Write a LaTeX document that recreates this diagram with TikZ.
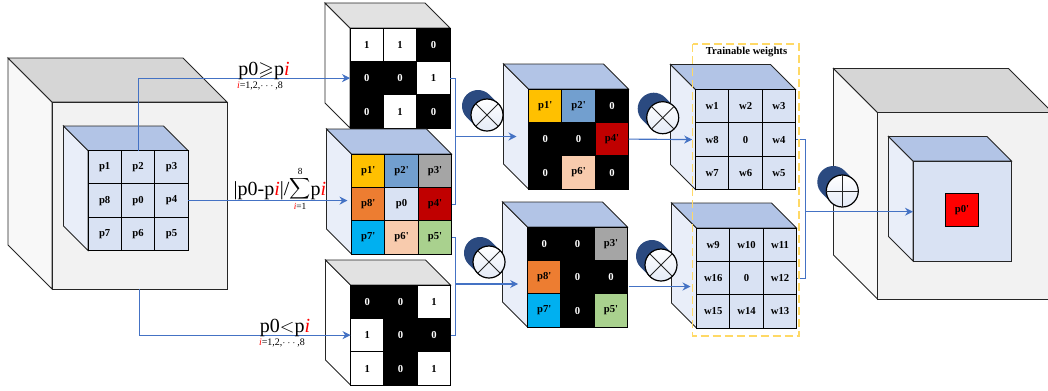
\documentclass[tikz,border=0pt]{standalone}
\usepackage{amsmath,amssymb}
\usepackage{fontspec}
\setmainfont[Ligatures=TeXOff]{Liberation Serif}
\usepackage{xcolor}
\usetikzlibrary{arrows.meta}
\definecolor{greyS}{HTML}{F8F8F8}
\definecolor{greyT}{HTML}{D6D6D6}
\definecolor{greyF}{HTML}{F2F2F2}
\definecolor{blueS}{HTML}{E9EEF9}
\definecolor{blueT}{HTML}{B2C4E6}
\definecolor{blueF}{HTML}{D9E2F3}
\definecolor{wipeS}{HTML}{FFFFFF}
\definecolor{wipeT}{HTML}{E2E2E2}
\definecolor{wipeF}{HTML}{FFFFFF}
\definecolor{wirec}{HTML}{4472C4}
\definecolor{blobc}{HTML}{2B4A80}
\definecolor{dashc}{HTML}{FFD966}
\definecolor{cA}{HTML}{FFC000}
\definecolor{cB}{HTML}{729FCF}
\definecolor{cC}{HTML}{A5A5A5}
\definecolor{cD}{HTML}{ED7D31}
\definecolor{cE}{HTML}{C00000}
\definecolor{cF}{HTML}{00B0F0}
\definecolor{cG}{HTML}{F8CBAD}
\definecolor{cH}{HTML}{A9D18E}
\tikzset{
  edge/.style={draw=black!85,line width=0.65pt,line join=miter},
  cell/.style={draw=black,line width=0.7pt,minimum size=25pt,inner sep=0pt,outer sep=0pt,font=\fontsize{8}{9}\selectfont\bfseries},
  wire/.style={draw=wirec,line width=0.85pt},
  arr/.style={wire,-{Stealth[length=6pt,width=6pt]}},
  blob/.style={draw=blobc,line width=24pt,line cap=round},
  opdisc/.style={circle,draw=black,line width=0.9pt,minimum size=24pt,inner sep=0pt,outer sep=0pt,top color=white,bottom color=blueF!70},
  opline/.style={draw=black!85,line width=0.7pt},
  biglab/.style={font=\fontsize{15}{15}\selectfont,anchor=base,inner sep=0pt},
  sublab/.style={font=\fontsize{7.5}{9}\selectfont,inner sep=0pt}
}
\newcommand{\redi}{\textcolor{red}{\textit{i}}}
\newcommand{\cubeat}[7]{
\draw[edge,fill=#7S] ({#2-#6},{#3-#6}) -- (#2,#3) -- (#2,{#3+#5}) -- ({#2-#6},{#3+#5-#6}) -- cycle;
\draw[edge,fill=#7T] ({#2-#6},{#3-#6}) -- ({#2+#4-#6},{#3-#6}) -- ({#2+#4},#3) -- (#2,#3) -- cycle;
\node[edge,fill=#7F,anchor=north west,inner sep=0pt,outer sep=0pt,minimum width=#4*0.75pt,minimum height=#5*0.75pt] (#1) at (#2,#3) {};
}
\newcommand{\cellgrid}[4]{
\foreach \lab/\col/\txt [count=\k from 0] in {#4} {
  \pgfmathtruncatemacro{\rw}{div(\k,3)}
  \pgfmathtruncatemacro{\cl}{mod(\k,3)}
  \node[cell,fill=\col,text=\txt] (#1-\k) at ({#2+(\cl+0.5)*33.4},{#3+(\rw+0.5)*33.4}) {\lab};
}
}
\newcommand{\opsym}[4]{
\draw[blob] ({#2-9},{#3-9}) -- (#2,#3);
\node[opdisc] (#1) at (#2,#3) {};
\foreach \a in {0,90,180,270} \draw[opline] (#1.center) -- ++(#4+\a:16);
}

\begin{document}
\begin{tikzpicture}[x=0.75pt,y=-0.75pt]
\useasboundingbox (0,0) rectangle (1048,390);
\clip (0,0) rectangle (1048,390);
\cubeat{bigin}{52}{102}{175}{187}{44}{grey}
\cubeat{small}{88}{150.5}{100}{100}{24.5}{blue}
\cellgrid{small}{88}{150.5}{p1/blueF/black,p2/blueF/black,p3/blueF/black,p8/blueF/black,p0/blueF/black,p4/blueF/black,p7/blueF/black,p6/blueF/black,p5/blueF/black}

\cubeat{bina}{350}{28}{100}{100}{25}{wipe}
\cellgrid{bina}{350}{28}{1/white/black,1/white/black,0/black/white,0/black/white,0/black/white,1/white/black,0/black/white,1/white/black,0/black/white}
\cubeat{norm}{351.5}{154}{100}{100}{25}{blue}
\cellgrid{norm}{351.5}{154}{p1'/cA/black,p2'/cB/black,p3'/cC/black,p8'/cD/black,p0/blueF/black,p4'/cE/black,p7'/cF/black,p6'/cG/black,p5'/cH/black}
\cubeat{binb}{350.5}{285}{100}{100}{25}{wipe}
\cellgrid{binb}{350.5}{285}{0/black/white,0/black/white,1/white/black,1/white/black,0/black/white,0/black/white,1/white/black,0/black/white,1/white/black}

\cubeat{mida}{528.5}{89}{100}{100}{25}{blue}
\cellgrid{mida}{528.5}{89}{p1'/cA/black,p2'/cB/black,0/black/white,0/black/white,0/black/white,p4'/cE/black,0/black/white,p6'/cG/black,0/black/white}
\cubeat{midb}{527.5}{227}{100}{100}{25}{blue}
\cellgrid{midb}{527.5}{227}{0/black/white,0/black/white,p3'/cC/black,p8'/cD/black,0/black/white,0/black/white,p7'/cF/black,0/black/white,p5'/cH/black}

\cubeat{wta}{695.5}{89.5}{100}{100}{25}{blue}
\cellgrid{wta}{695.5}{89.5}{w1/blueF/black,w2/blueF/black,w3/blueF/black,w8/blueF/black,0/blueF/black,w4/blueF/black,w7/blueF/black,w6/blueF/black,w5/blueF/black}
\cubeat{wtb}{696.5}{228}{100}{100}{25}{blue}
\cellgrid{wtb}{696.5}{228}{w9/blueF/black,w10/blueF/black,w11/blueF/black,w16/blueF/black,0/blueF/black,w12/blueF/black,w15/blueF/black,w14/blueF/black,w13/blueF/black}

\cubeat{bigout}{877.5}{112.5}{175}{186.5}{44}{grey}
\cubeat{inner}{913}{161}{98.5}{100}{24.5}{blue}
\node[cell,fill=red] (res) at (962,210) {p0'};

\opsym{opa}{487}{115}{45}
\opsym{opb}{662.7}{117.7}{45}
\opsym{opc}{489}{262}{45}
\opsym{opd}{661}{265}{45}
\opsym{ope}{842.3}{191}{0}

\coordinate (busA) at (455.5,136.5);
\coordinate (busB) at (455.5,284);
\coordinate (busC) at (805.5,211.7);
\coordinate (tapB) at (628.5,286.5);
\draw[arr] (small-1.north) |- (bina-3.west);
\draw[arr,shorten >=3pt] (small-5.east) -- (small-5.east -| norm.west);
\draw[arr] (bigin.south) |- (binb-3.west);
\draw[wire] (bina-5.east) -| (busA);
\draw[wire] (norm-5.east) -| (busA);
\draw[arr,shorten >=9pt] (busA) -- (busA -| mida.west);
\draw[wire] (norm-8.east) -| (busB);
\draw[wire] (binb-5.east) -| (busB);
\draw[arr,shorten >=7pt] (busB) -- (busB -| midb.west);
\draw[arr,shorten >=2.5pt] (mida-5.east) -- (wta-3.west);
\draw[arr,shorten >=4.5pt] (tapB) -- (tapB -| wtb.west);
\draw[wire] (wta-5.east) -| (busC);
\draw[wire] (wtb-5.east) -| (busC);
\draw[arr] (busC) -- (busC -| inner.west);

\draw[dashc,line width=1pt,dash pattern=on 6pt off 3pt] (692.5,44) rectangle (799,336);
\node[font=\fontsize{8}{9}\selectfont\bfseries,inner sep=0pt] (title) at (746.5,52) {Trainable weights};

\node[biglab] (geq) at (264,75) {p0$\geqslant$p\redi};
\node[sublab] (geqsub) at (260,85.7) {\redi=1,2,$\cdots$,8};
\node[biglab] (frac) at (280,195) {|p0-p\redi|/\raisebox{2pt}{\fontsize{11}{11}\selectfont$\displaystyle\sum\limits_{\mbox{\fontsize{7}{8}\selectfont\redi=1}}^{\mbox{\fontsize{7}{8}\selectfont 8}}$}p\redi};
\node[biglab] (less) at (285,332.7) {p0$<$p\redi};
\node[sublab] (lesssub) at (282,343) {\redi=1,2,$\cdots$,8};
\end{tikzpicture}
\end{document}
